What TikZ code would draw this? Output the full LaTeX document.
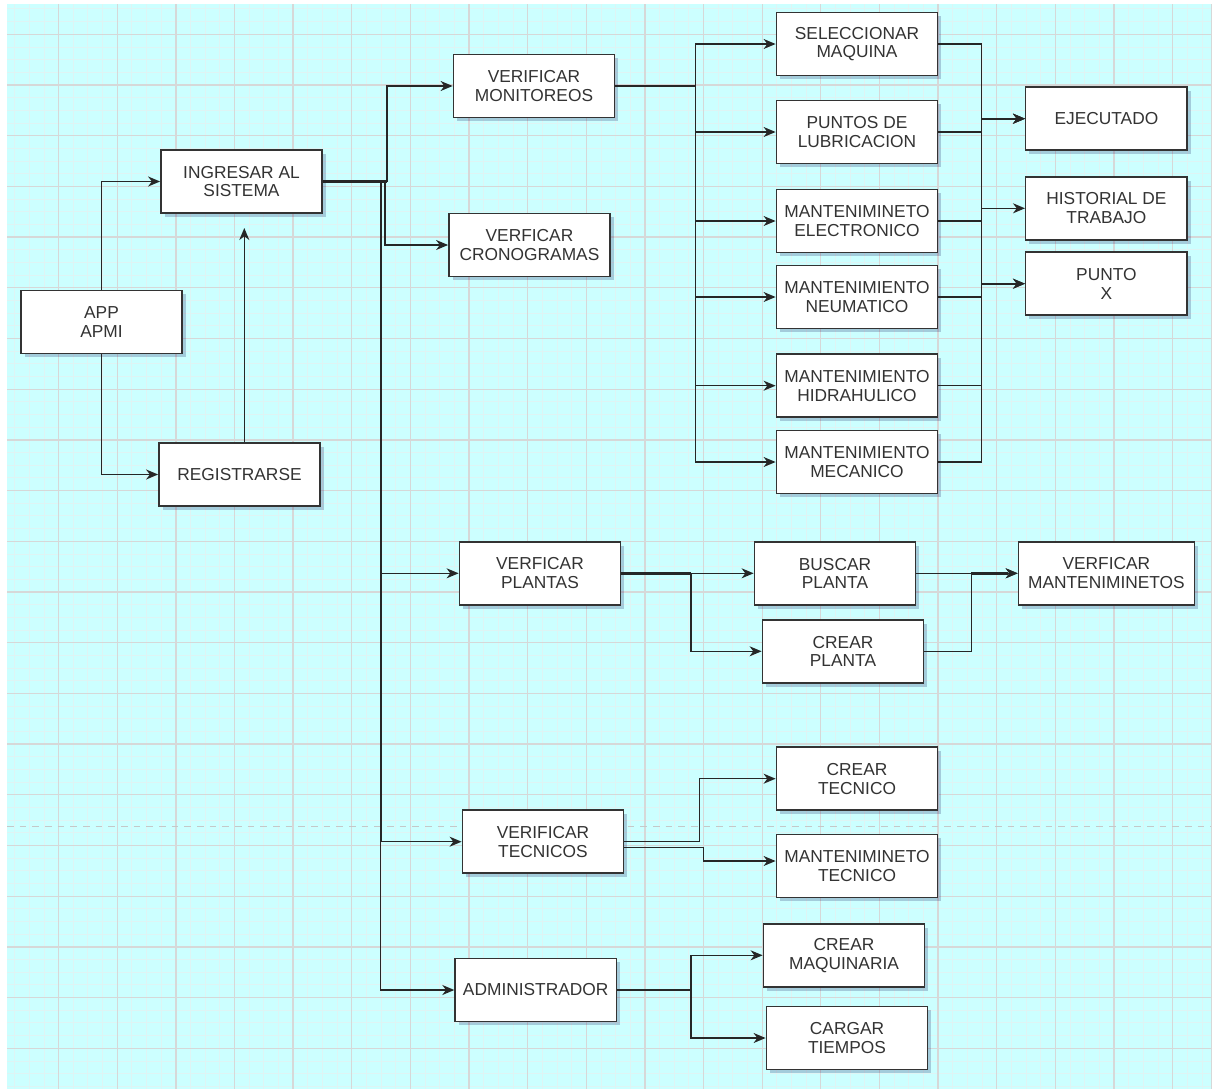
\documentclass[tikz,border=0pt]{standalone}
\usepackage{fontspec}
\setmainfont{Liberation Sans}
\usetikzlibrary{arrows.meta,shadows}
\definecolor{bgcyan}{RGB}{204,255,255}
\definecolor{gridmaj}{RGB}{214,216,216}
\definecolor{gridmin}{RGB}{222,244,244}
\definecolor{boxline}{RGB}{51,51,51}
\definecolor{txt}{RGB}{51,51,51}
\definecolor{pagebreak}{RGB}{196,200,200}

\begin{document}
\begin{tikzpicture}[x=0.75pt, y=-0.75pt, >={Stealth[length=9pt,width=7.5pt,inset=2.8pt]},
  menubox/.style={draw=boxline, line width=1.1pt, fill=white, minimum width=121pt,
    minimum height=47.25pt, inner sep=2pt, align=center, text=txt,
    font=\fontsize{13}{14}\selectfont,
    drop shadow={shadow xshift=2.8pt, shadow yshift=-2.8pt, fill=black!70!blue, opacity=0.2}},
  conn/.style={line width=1pt, draw=black!85},
  heavy/.style={line width=1.8pt, draw=black!85}]

  \useasboundingbox (0,0) rectangle (1218,1089);

  % grid paper
  \fill[bgcyan] (7,4) rectangle (1211,1089);
  \foreach \k in {1,...,82} \draw[gridmin, line width=0.7pt] ({\k*14.658},4) -- ({\k*14.658},1089);
  \foreach \k in {0,...,85} \draw[gridmin, line width=0.7pt] (7,{8.95+\k*12.675}) -- (1211,{8.95+\k*12.675});
  \foreach \k in {1,...,20} \draw[gridmaj, line width=1pt] ({\k*58.63},4) -- ({\k*58.63},1089);
  \foreach \k in {0,...,20} \draw[gridmaj, line width=1pt] (7,{34.3+\k*50.7}) -- (1211,{34.3+\k*50.7});
  \draw[gridmaj, line width=1pt] (1211.5,4) -- (1211.5,1089);
  \draw[pagebreak, line width=1pt, dash pattern=on 5pt off 4.5pt] (7,826.7) -- (1211,826.7);

  % entrada
  \node[menubox] (app) at (101.5,322) {APP\\APMI};
  \node[menubox] (ing) at (241.5,181.5) {INGRESAR AL\\SISTEMA};
  \node[menubox] (reg) at (239.5,474.5) {REGISTRARSE};

  % menu principal
  \node[menubox] (mon) at (534,86) {VERIFICAR\\MONITOREOS};
  \node[menubox] (cro) at (529.5,245) {VERFICAR\\CRONOGRAMAS};
  \node[menubox] (pla) at (540,573.3) {VERFICAR\\PLANTAS};
  \node[menubox] (tec) at (543,841.7) {VERIFICAR\\TECNICOS};
  \node[menubox] (adm) at (535.7,990) {ADMINISTRADOR};

  % monitoreos
  \node[menubox] (sel) at (857,44) {SELECCIONAR\\MAQUINA};
  \node[menubox] (lub) at (857,132) {PUNTOS DE\\LUBRICACION};
  \node[menubox] (ele) at (857,221) {MANTENIMINETO\\ELECTRONICO};
  \node[menubox] (neu) at (857,297) {MANTENIMIENTO\\NEUMATICO};
  \node[menubox] (hid) at (857,385.7) {MANTENIMIENTO\\HIDRAHULICO};
  \node[menubox] (mec) at (857,462) {MANTENIMIENTO\\MECANICO};
  \node[menubox] (eje) at (1106.4,118.7) {EJECUTADO};
  \node[menubox] (his) at (1106.4,208.3) {HISTORIAL DE\\TRABAJO};
  \node[menubox] (pun) at (1106.4,283.7) {PUNTO\\X};

  % plantas, tecnicos, administrador
  \node[menubox] (bpl) at (835,573.3) {BUSCAR\\PLANTA};
  \node[menubox] (cpl) at (843,651.3) {CREAR\\PLANTA};
  \node[menubox, minimum width=132pt] (vma) at (1106.4,573.3) {VERFICAR\\MANTENIMINETOS};
  \node[menubox] (ctc) at (857,778.7) {CREAR\\TECNICO};
  \node[menubox] (mtc) at (857,866) {MANTENIMINETO\\TECNICO};
  \node[menubox] (cmq) at (844,955.3) {CREAR\\MAQUINARIA};
  \node[menubox] (ctm) at (847,1038) {CARGAR\\TIEMPOS};

  % bus columns
  \coordinate (b1) at (387,0);
  \coordinate (b2) at (385,0);
  \coordinate (tr) at (380.8,0);
  \coordinate (b3) at (695.4,0);
  \coordinate (b4) at (981.3,0);
  \coordinate (b5) at (691,0);
  \coordinate (b6) at (971.2,0);
  \coordinate (b7) at (699.8,0);
  \coordinate (b8) at (703.7,0);
  \coordinate (b9) at (691,0);
  \coordinate (regup) at (244.3,228);
  \coordinate (tecout) at ([yshift=-4.5pt]tec.east);
  \coordinate (mtcin) at ([yshift=3.75pt]mtc.west);

  \draw[conn,->] (app) |- (ing);
  \draw[conn,->] (app) |- (reg);
  \draw[conn,->] (reg.north -| regup) -- (regup);

  \draw[conn,->] (ing.east) -- (ing.east -| b1) |- (mon);
  \draw[conn,->] (ing.east) -- (ing.east -| b2) |- (cro);
  \foreach \t in {pla,tec,adm} \draw[conn,->] (ing.east) -- (ing.east -| tr) |- (\t);
  \draw[heavy] (ing.east) -- (ing.east -| b1);
  \draw[heavy] (ing.east -| tr) -- (tec.west -| tr);

  \foreach \t in {sel,lub,ele,neu,hid,mec} \draw[conn,->] (mon.east) -- (mon.east -| b3) |- (\t);
  \draw[heavy] (mon.east) -- (mon.east -| b3);

  \foreach \s/\t in {sel/eje,lub/his,ele/pun,neu/eje,hid/pun,mec/eje}
    \draw[conn,->] (\s.east) -- (\s.east -| b4) |- (\t);
  \draw[heavy] (eje.west -| b4) -- ([xshift=-7pt]eje.west);
  \draw[heavy] (pun.west -| b4) -- ([xshift=-7pt]pun.west);

  \draw[conn,->] (pla) -- (bpl);
  \draw[conn,->] (pla.east) -- (pla.east -| b5) |- (cpl);
  \draw[heavy] (pla.east) -- (pla.east -| b5);
  \draw[conn,->] (bpl) -- (vma);
  \draw[conn,->] (cpl.east) -- (cpl.east -| b6) |- (vma);
  \draw[heavy] (vma.west -| b6) -- ([xshift=-7pt]vma.west);

  \draw[conn,->] (tec.east) -- (tec.east -| b7) |- (ctc);
  \draw[conn,->] (tecout) -- (tecout -| b8) |- (mtcin);

  \draw[conn,->] (adm.east) -- (adm.east -| b9) |- (cmq);
  \draw[conn,->] (adm.east) -- (adm.east -| b9) |- (ctm);
  \draw[heavy] (adm.east) -- (adm.east -| b9);
\end{tikzpicture}
\end{document}
